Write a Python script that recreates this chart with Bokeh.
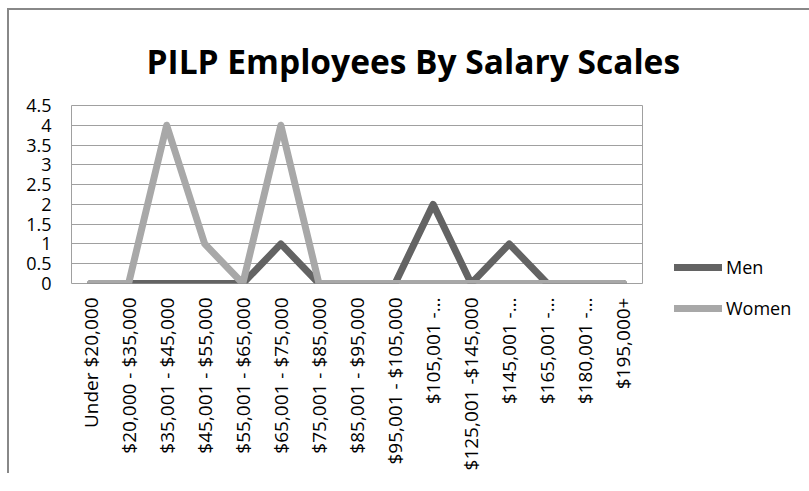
import math
from bokeh.plotting import figure
from bokeh.models import FactorRange, Range1d, FixedTicker, Legend, LegendItem
from bokeh.embed import file_html
from bokeh.resources import INLINE

categories = ["Under $20,000", "$20,000 - $35,000", "$35,001 - $45,000",
              "$45,001 - $55,000", "$55,001 - $65,000", "$65,001 - $75,000",
              "$75,001 - $85,000", "$85,001 - $95,000", "$95,001 - $105,000",
              "$105,001 -\u2026", "$125,001 -$145,000", "$145,001 -\u2026",
              "$165,001 -\u2026", "$180,001 -\u2026", "$195,000+"]
men = [0, 0, 0, 0, 0, 1, 0, 0, 0, 2, 0, 1, 0, 0, 0]
women = [0, 0, 4, 1, 0, 4, 0, 0, 0, 0, 0, 0, 0, 0, 0]
y_ticks = [0, 0.5, 1, 1.5, 2, 2.5, 3, 3.5, 4, 4.5]
y_tick_labels = ["0", "0.5", "1", "1.5", "2", "2.5", "3", "3.5", "4", "4.5"]
title_text = "PILP Employees By Salary Scales"

FONT = "Open Sans"

p = figure(frame_width=571, frame_height=178, output_backend="svg",
           toolbar_location=None,
           x_range=FactorRange(*categories, range_padding=0),
           y_range=Range1d(0, 4.5),
           min_border_left=62, min_border_top=95, min_border_right=0,
           min_border_bottom=190)
p.styles = {"border-top": "2px solid #888888", "border-left": "2px solid #888888",
            "margin-left": "7px", "margin-top": "8px"}

p.title.text = title_text
p.title.text_font = FONT
p.title.text_font_style = "bold"
p.title.text_font_size = "33.5px"
p.title.align = "left"
p.title.offset = 75
p.title.standoff = 43
p.title.text_color = "#000000"

p.outline_line_color = "#a0a0a0"
p.outline_line_width = 1
p.background_fill_color = "white"
p.border_fill_color = "white"

p.xgrid.grid_line_color = None
p.ygrid.grid_line_color = "#a0a0a0"
p.ygrid.grid_line_width = 1
p.yaxis.ticker = FixedTicker(ticks=y_ticks)
p.yaxis.major_label_overrides = {t: l for t, l in zip(y_ticks, y_tick_labels)}

for ax in (p.xaxis, p.yaxis):
    ax.axis_line_color = None
    ax.major_tick_line_color = None
    ax.minor_tick_line_color = None
    ax.major_tick_out = 0
    ax.major_tick_in = 0
    ax.major_label_text_font = FONT
    ax.major_label_text_color = "#000000"
p.yaxis.major_label_text_font_size = "18px"
p.xaxis.major_label_text_font_size = "19px"
p.yaxis.major_label_standoff = 20
p.xaxis.major_label_standoff = 14
p.xaxis.major_label_orientation = math.pi / 2

r_men = p.line(categories, men, line_width=7, line_color="#636363",
               line_cap="round", line_join="round")
r_women = p.line(categories, women, line_width=7, line_color="#a8a8a8",
                 line_cap="round", line_join="round")

legend = Legend(items=[LegendItem(label="Men", renderers=[r_men]),
                       LegendItem(label="Women", renderers=[r_women])],
                location=(32, -37), padding=0, margin=0,
                border_line_color=None, background_fill_alpha=0,
                glyph_width=48, glyph_height=20, label_height=20,
                spacing=17, label_standoff=4,
                label_text_font=FONT, label_text_font_size="18px",
                label_text_color="#000000")
p.add_layout(legend, "right")

open("out.html", "w").write(file_html(p, INLINE))
